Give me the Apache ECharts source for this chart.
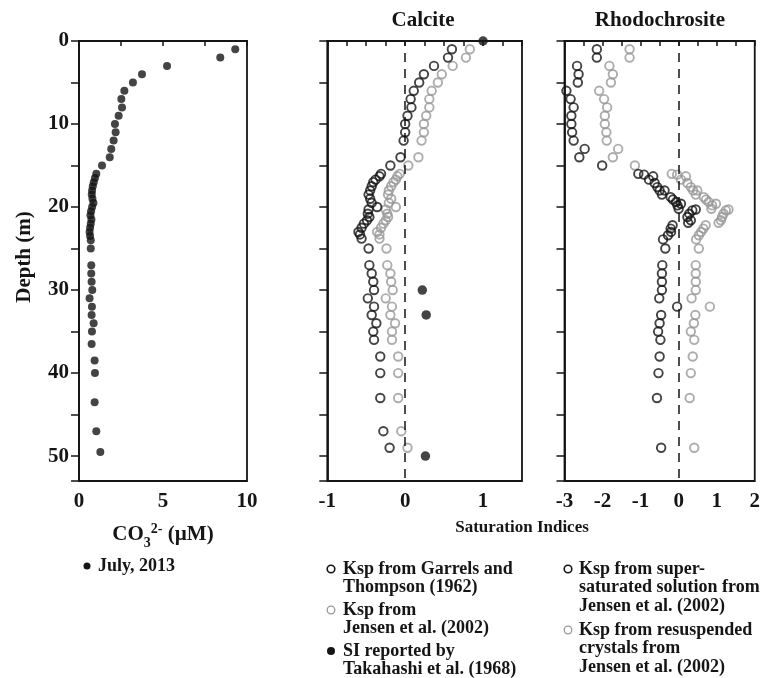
<!DOCTYPE html>
<html>
<head>
<meta charset="utf-8">
<script src="https://cdn.jsdelivr.net/npm/echarts@6/dist/echarts.min.js"></script>
<style>
html,body{margin:0;padding:0;background:#fff;}
#chart{width:763px;height:678px;}
</style>
</head>
<body>
<div id="chart"></div>
<script>
// ---- Data ----
// Left panel: carbonate ion, July 2013
var co3Depth = [1,2,3,4,5,6,7,8,9,10,11,12,13,14,15,16,16.5,17,17.5,18,18.5,19,19.5,20,20.5,21,21.5,22,22.5,23,23.5,24,25,27,28,29,30,31,32,33,34,35,36.5,38.5,40,43.5,47,49.5];
var co3Value = [9.30,8.41,5.24,3.75,3.21,2.70,2.52,2.56,2.36,2.14,2.18,2.06,1.92,1.83,1.37,1.03,0.95,0.88,0.82,0.78,0.76,0.80,0.86,0.78,0.72,0.68,0.74,0.70,0.66,0.63,0.66,0.70,0.70,0.73,0.73,0.75,0.79,0.63,0.77,0.75,0.87,0.77,0.75,0.93,0.95,0.93,1.03,1.27];

// Calcite panel
var calDepth = [1,2,3,4,5,6,7,8,9,10,11,12,14,15,16,16.3,16.7,17,17.5,18,18.5,19,19.5,20,20.3,20.8,21.2,21.6,22,22.5,23,23.3,23.8,25,27,28,29,30,31,32,33,34,35,36,38,40,43,47,49];
var calGarrels = [0.60,0.55,0.37,0.24,0.18,0.11,0.07,0.08,0.03,0.00,0.00,-0.02,-0.06,-0.19,-0.31,-0.33,-0.38,-0.41,-0.43,-0.45,-0.47,-0.45,-0.43,-0.36,-0.47,-0.48,-0.46,-0.49,-0.53,-0.56,-0.60,-0.58,-0.56,-0.47,-0.46,-0.43,-0.41,-0.40,-0.48,-0.40,-0.43,-0.37,-0.41,-0.40,-0.32,-0.32,-0.32,-0.28,-0.20];
var calJensen = [0.83,0.78,0.61,0.47,0.42,0.34,0.31,0.31,0.27,0.24,0.24,0.21,0.17,0.04,-0.07,-0.10,-0.12,-0.15,-0.18,-0.21,-0.22,-0.18,-0.21,-0.12,-0.25,-0.23,-0.22,-0.25,-0.28,-0.31,-0.36,-0.33,-0.33,-0.24,-0.23,-0.19,-0.18,-0.16,-0.25,-0.17,-0.19,-0.13,-0.17,-0.17,-0.09,-0.09,-0.09,-0.05,0.03];
var takDepth = [0,30,33,50];
var takValue = [1.00,0.22,0.27,0.26];

// Rhodochrosite panel
var rhoDepth = [1,2,3,4,5,6,7,8,9,10,11,12,13,14,15,16,16.1,16.3,16.7,17.1,17.6,18,18,18.5,18.8,19.1,19.4,19.6,19.8,20.2,20.3,20.4,20.8,21.2,21.6,21.9,22.2,22.6,23,23.4,23.9,25,27,28,29,30,31,32,33,34,35,36,38,40,43,49];
var rhoSuper = [-2.15,-2.15,-2.67,-2.63,-2.65,-2.95,-2.84,-2.76,-2.82,-2.82,-2.80,-2.76,-2.47,-2.61,-2.01,-1.06,-0.91,-0.67,-0.78,-0.63,-0.56,-0.50,-0.37,-0.44,-0.21,-0.15,-0.07,0.06,-0.03,0.00,0.45,0.36,0.28,0.23,0.32,0.25,-0.16,-0.21,-0.20,-0.28,-0.41,-0.35,-0.43,-0.44,-0.44,-0.44,-0.51,-0.04,-0.46,-0.50,-0.54,-0.48,-0.50,-0.53,-0.57,-0.46];
var rhoResusp = [-1.29,-1.29,-1.82,-1.73,-1.78,-2.09,-1.96,-1.88,-1.94,-1.94,-1.90,-1.89,-1.59,-1.73,-1.15,-0.18,-0.04,0.19,0.06,0.23,0.32,0.38,0.49,0.45,0.66,0.72,0.79,0.98,0.88,0.86,1.31,1.24,1.18,1.14,1.11,1.05,0.71,0.65,0.59,0.53,0.46,0.53,0.45,0.45,0.45,0.45,0.34,0.82,0.44,0.40,0.32,0.41,0.37,0.32,0.29,0.41];

// Axis tick settings
var depthTicks = {min: 0, max: 53, interval: 5, labelEvery: 10};
var co3Ticks = {min: 0, max: 10, interval: 2.5, labelEvery: 5};
var calTicks = {min: -1, max: 1.5, interval: 0.25, labelEvery: 1};
var rhoTicks = {min: -3, max: 2, interval: 0.5, labelEvery: 1};

// ---- Styling ----
var FONT = "'Liberation Serif','Times New Roman',serif";
var INK = '#151515';
var GRAY = '#999999';

function pairs(xs, ys){ return ys.map(function(v,i){ return [v, xs[i]]; }); }
function every(step){
  return function(v){ var r = v/step; return Math.abs(r-Math.round(r))<1e-6 ? String(Math.round(v*100)/100) : ''; };
}

var grids = [
  {left: 79, top: 41, width: 168, height: 440},
  {left: 327.3, top: 41, width: 194.7, height: 440},
  {left: 564.5, top: 41, width: 194.2, height: 440}
].map(function(g){ return Object.assign({show: true, borderColor: INK, borderWidth: 1.8, backgroundColor: 'transparent'}, g); });

function xAx(i, t, name){
  var a = {
    gridIndex: i, type: 'value', min: t.min, max: t.max, interval: t.interval,
    axisLine: {show: true, lineStyle: {color: INK, width: 1.8}},
    axisTick: {show: true, inside: false, length: 5, lineStyle: {color: INK, width: 1.5}},
    axisLabel: {show: true, margin: 10, color: INK, fontFamily: FONT, fontWeight: 'bold', fontSize: 21, formatter: every(t.labelEvery), showMinLabel: true, showMaxLabel: true},
    splitLine: {show: false}
  };
  if (name) {
    a.name = name.text; a.nameLocation = 'middle'; a.nameGap = name.gap;
    a.nameTextStyle = name.style;
  }
  return a;
}
function yAx(i, showLabels){
  return {
    gridIndex: i, type: 'value', inverse: true, min: depthTicks.min, max: depthTicks.max, interval: depthTicks.interval,
    axisLine: {show: true, onZero: false, lineStyle: {color: INK, width: 1.8}},
    axisTick: {show: true, inside: false, length: 8, lineStyle: {color: INK, width: 1.5}},
    axisLabel: {show: showLabels, margin: 10, color: INK, fontFamily: FONT, fontWeight: 'bold', fontSize: 21, formatter: every(depthTicks.labelEvery)},
    splitLine: {show: false},
    name: showLabels ? 'Depth (m)' : '', nameLocation: 'middle', nameGap: 44, nameRotate: 90,
    nameTextStyle: {color: INK, fontFamily: FONT, fontWeight: 'bold', fontSize: 21, padding: [0, 0, 0, 8]}
  };
}

var open = function(color){ return {color: 'rgba(0,0,0,0)', borderColor: color, borderWidth: 1.9}; };
var dash = function(){
  return {silent: true, symbol: ['none','none'], label: {show: false},
    lineStyle: {color: INK, width: 1.5, type: [9,7], dashOffset: -12}, data: [{xAxis: 0}]};
};
function label(text, x, y, size, extra){
  return {type: 'text', x: x, y: y, style: Object.assign({text: text, fill: INK, font: 'bold ' + size + 'px ' + FONT}, extra || {})};
}

var option = {
  animation: false,
  backgroundColor: '#fff',
  grid: grids,
  xAxis: [
    xAx(0, co3Ticks, {text: '{n|CO}{sub|3}{sup|2-}{n| (µM)}', gap: 41, style: {color: INK, fontFamily: FONT, fontWeight: 'bold', fontSize: 21,
      rich: {
        n: {fontFamily: FONT, fontWeight: 'bold', fontSize: 21, color: INK, lineHeight: 26, verticalAlign: 'middle'},
        sub: {fontFamily: FONT, fontWeight: 'bold', fontSize: 14, color: INK, lineHeight: 14, verticalAlign: 'bottom', padding: [0,0,-2,0]},
        sup: {fontFamily: FONT, fontWeight: 'bold', fontSize: 14, color: INK, lineHeight: 14, verticalAlign: 'top'}
      }}}),
    xAx(1, calTicks),
    xAx(2, rhoTicks)
  ],
  yAxis: [yAx(0, true), yAx(1, false), yAx(2, false)],
  series: [
    {name: 'July, 2013', type: 'scatter', xAxisIndex: 0, yAxisIndex: 0, symbol: 'circle', symbolSize: 8, itemStyle: {color: INK}, data: pairs(co3Depth, co3Value)},
    {name: 'Ksp from Garrels and Thompson (1962)', type: 'scatter', xAxisIndex: 1, yAxisIndex: 1, symbol: 'circle', symbolSize: 8.5, itemStyle: open(INK), data: pairs(calDepth, calGarrels), markLine: dash(), z: 3},
    {name: 'Ksp from Jensen et al. (2002)', type: 'scatter', xAxisIndex: 1, yAxisIndex: 1, symbol: 'circle', symbolSize: 8.5, itemStyle: open(GRAY), data: pairs(calDepth, calJensen), z: 2},
    {name: 'SI reported by Takahashi et al. (1968)', type: 'scatter', xAxisIndex: 1, yAxisIndex: 1, symbol: 'circle', symbolSize: 9.5, clip: false, itemStyle: {color: INK}, data: pairs(takDepth, takValue), z: 5},
    {name: 'Ksp from super-saturated solution from Jensen et al. (2002)', type: 'scatter', xAxisIndex: 2, yAxisIndex: 2, symbol: 'circle', symbolSize: 8.5, itemStyle: open(INK), data: pairs(rhoDepth, rhoSuper), markLine: dash(), z: 3},
    {name: 'Ksp from resuspended crystals from Jensen et al. (2002)', type: 'scatter', xAxisIndex: 2, yAxisIndex: 2, symbol: 'circle', symbolSize: 8.5, itemStyle: open(GRAY), data: pairs(rhoDepth, rhoResusp), z: 2}
  ],
  graphic: [
    label('Calcite', 423, 21, 21, {align: 'center', verticalAlign: 'middle'}),
    label('Rhodochrosite', 660, 21, 21, {align: 'center', verticalAlign: 'middle'}),
    label('Saturation Indices', 522, 528, 17, {align: 'center', verticalAlign: 'middle'}),
    // left legend
    {type: 'circle', shape: {cx: 87, cy: 566, r: 3.5}, style: {fill: INK}},
    label('July, 2013', 98, 566, 18, {verticalAlign: 'middle'}),
    // calcite legend
    {type: 'circle', shape: {cx: 331, cy: 569, r: 3.8}, style: {fill: 'none', stroke: INK, lineWidth: 1.6}},
    label('Ksp from Garrels and\nThompson (1962)', 343, 560, 18, {lineHeight: 18.5, verticalAlign: 'top'}),
    {type: 'circle', shape: {cx: 331, cy: 610, r: 3.8}, style: {fill: 'none', stroke: GRAY, lineWidth: 1.3}},
    label('Ksp from\nJensen et al. (2002)', 343, 601, 18, {lineHeight: 18.5, verticalAlign: 'top'}),
    {type: 'circle', shape: {cx: 331, cy: 651, r: 4}, style: {fill: INK}},
    label('SI reported by\nTakahashi et al. (1968)', 343, 642, 18, {lineHeight: 18.5, verticalAlign: 'top'}),
    // rhodochrosite legend
    {type: 'circle', shape: {cx: 568, cy: 569, r: 3.8}, style: {fill: 'none', stroke: INK, lineWidth: 1.6}},
    label('Ksp from super-\nsaturated solution from\nJensen et al. (2002)', 579, 560, 18, {lineHeight: 18.5, verticalAlign: 'top'}),
    {type: 'circle', shape: {cx: 568, cy: 630, r: 3.8}, style: {fill: 'none', stroke: GRAY, lineWidth: 1.3}},
    label('Ksp from resuspended\ncrystals from\nJensen et al. (2002)', 579, 621, 18, {lineHeight: 18.5, verticalAlign: 'top'})
  ]
};

var chart = echarts.init(document.getElementById('chart'), null, {renderer: 'canvas'});
chart.setOption(option);
</script>
</body>
</html>
